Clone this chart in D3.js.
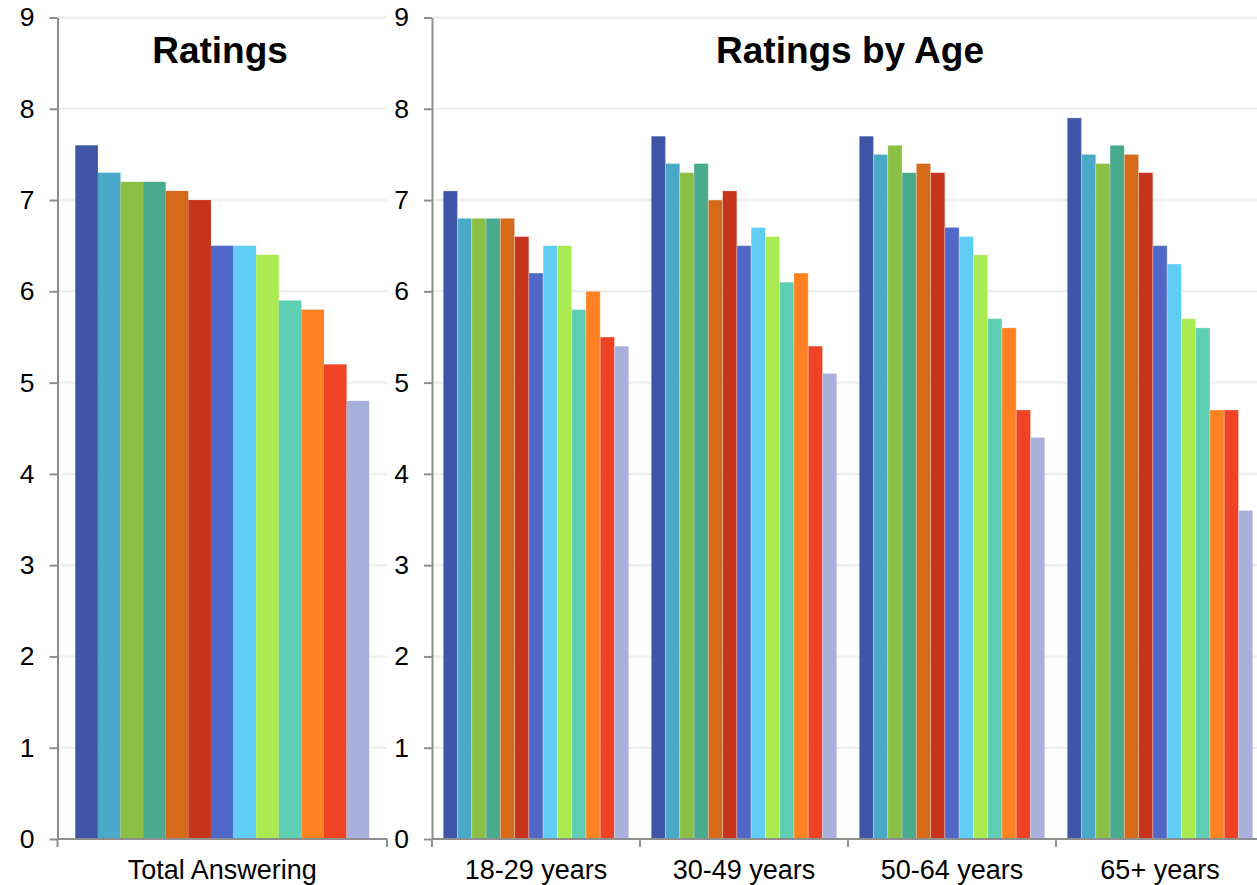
<!DOCTYPE html>
<html>
<head>
<meta charset="utf-8">
<script src="https://cdn.jsdelivr.net/npm/d3@7"></script>
<style>
  html, body { margin: 0; padding: 0; background: #fff; }
  svg { display: block; font-family: "Liberation Sans", Arial, sans-serif; }
</style>
</head>
<body>
<svg id="chart" width="1257" height="885"></svg>
<script>
// Thirteen rated items, one colour each, in the order they are drawn
const itemColors = [
  "#3f56a6", "#4aa8c8", "#8bc044", "#4aaa8e", "#d56a1a", "#c7341c", "#5069c8",
  "#5fcdf4", "#aaeb52", "#5ecfb2", "#fe8222", "#f04326", "#a9b0dc"
];

const yTicks = [0, 1, 2, 3, 4, 5, 6, 7, 8, 9];

// Overall ratings
const totalGroups = ["Total Answering"];
const totalValues = [[7.6, 7.3, 7.2, 7.2, 7.1, 7.0, 6.5, 6.5, 6.4, 5.9, 5.8, 5.2, 4.8]];

// Ratings by age group
const ageGroups = ["18-29 years", "30-49 years", "50-64 years", "65+ years"];
const ages1829 = [7.1, 6.8, 6.8, 6.8, 6.8, 6.6, 6.2, 6.5, 6.5, 5.8, 6.0, 5.5, 5.4];
const ages3049 = [7.7, 7.4, 7.3, 7.4, 7.0, 7.1, 6.5, 6.7, 6.6, 6.1, 6.2, 5.4, 5.1];
const ages5064 = [7.7, 7.5, 7.6, 7.3, 7.4, 7.3, 6.7, 6.6, 6.4, 5.7, 5.6, 4.7, 4.4];
const ages65 = [7.9, 7.5, 7.4, 7.6, 7.5, 7.3, 6.5, 6.3, 5.7, 5.6, 4.7, 4.7, 3.6];
const ageValues = [ages1829, ages3049, ages5064, ages65];

const svg = d3.select("#chart");
const axisColor = "#8e8e8e";
const gridColor = "#f0f0f0";

const y = d3.scaleLinear().domain([0, 9]).range([839, 17.5]);

function drawPanel(opts) {
  const { groups, values, x0, x1, title, barStroke } = opts;
  const g = svg.append("g");

  const gx = d3.scaleBand().domain(groups).range([x0, x1]).paddingInner(0).paddingOuter(0);
  const bw = gx.bandwidth();
  const inner = d3.scaleBand()
    .domain(d3.range(itemColors.length))
    .range([bw * 0.054, bw * 0.946])
    .padding(0);

  // horizontal gridlines
  g.append("g").selectAll("line")
    .data(yTicks.filter(d => d > 0))
    .join("line")
    .attr("x1", x0).attr("x2", Math.min(x1, 1257))
    .attr("y1", d => y(d)).attr("y2", d => y(d))
    .attr("stroke", gridColor).attr("stroke-width", 2.5);

  // bars
  const groupG = g.append("g").selectAll("g")
    .data(groups.map((name, i) => ({ name, vals: values[i] })))
    .join("g")
    .attr("transform", d => `translate(${gx(d.name)},0)`);

  groupG.selectAll("rect")
    .data(d => d.vals.map((v, i) => ({ v, i })))
    .join("rect")
    .attr("x", d => inner(d.i))
    .attr("width", inner.bandwidth())
    .attr("y", d => y(d.v))
    .attr("height", d => y(0) - y(d.v))
    .attr("fill", d => itemColors[d.i])
    .attr("stroke", barStroke ? "rgba(255,255,255,0.35)" : "none")
    .attr("stroke-width", barStroke ? 0.8 : 0);

  // y axis
  const ya = g.append("g")
    .attr("transform", `translate(${x0},0)`)
    .call(d3.axisLeft(y).tickValues(yTicks).tickFormat(d3.format("d"))
      .tickSize(8).tickSizeOuter(0).tickPadding(15));
  ya.select(".domain").attr("stroke", axisColor).attr("stroke-width", 2);
  ya.selectAll(".tick line").attr("stroke", axisColor).attr("stroke-width", 2);
  ya.selectAll(".tick text")
    .attr("font-size", 26.5).attr("fill", "#000")
    .attr("font-family", "'Liberation Sans', Arial, sans-serif");

  // x axis with labels under each group
  const xa = g.append("g")
    .attr("transform", `translate(0,${y(0)})`)
    .call(d3.axisBottom(gx).tickSize(0).tickSizeOuter(0).tickPadding(21));
  xa.select(".domain").remove();
  xa.selectAll(".tick text")
    .attr("font-size", 27).attr("fill", "#000")
    .attr("font-family", "'Liberation Sans', Arial, sans-serif");

  g.append("line")
    .attr("x1", x0).attr("x2", x1)
    .attr("y1", y(0)).attr("y2", y(0))
    .attr("stroke", axisColor).attr("stroke-width", 2);

  // separator ticks at group boundaries
  const bounds = groups.map(d => gx(d)).concat([x1]);
  g.append("g").selectAll("line")
    .data(bounds)
    .join("line")
    .attr("x1", d => d).attr("x2", d => d)
    .attr("y1", y(0)).attr("y2", y(0) + 8)
    .attr("stroke", axisColor).attr("stroke-width", 2);

  // panel title
  g.append("text")
    .attr("x", opts.titleX)
    .attr("y", 63)
    .attr("text-anchor", "middle")
    .attr("font-size", 37)
    .attr("font-weight", "bold")
    .attr("fill", "#000")
    .text(title);
}

drawPanel({ groups: totalGroups, values: totalValues, x0: 57.5, x1: 387,
  title: "Ratings", titleX: 220, barStroke: false });
drawPanel({ groups: ageGroups, values: ageValues, x0: 432, x1: 1264,
  title: "Ratings by Age", titleX: 850, barStroke: true });
</script>
</body>
</html>
